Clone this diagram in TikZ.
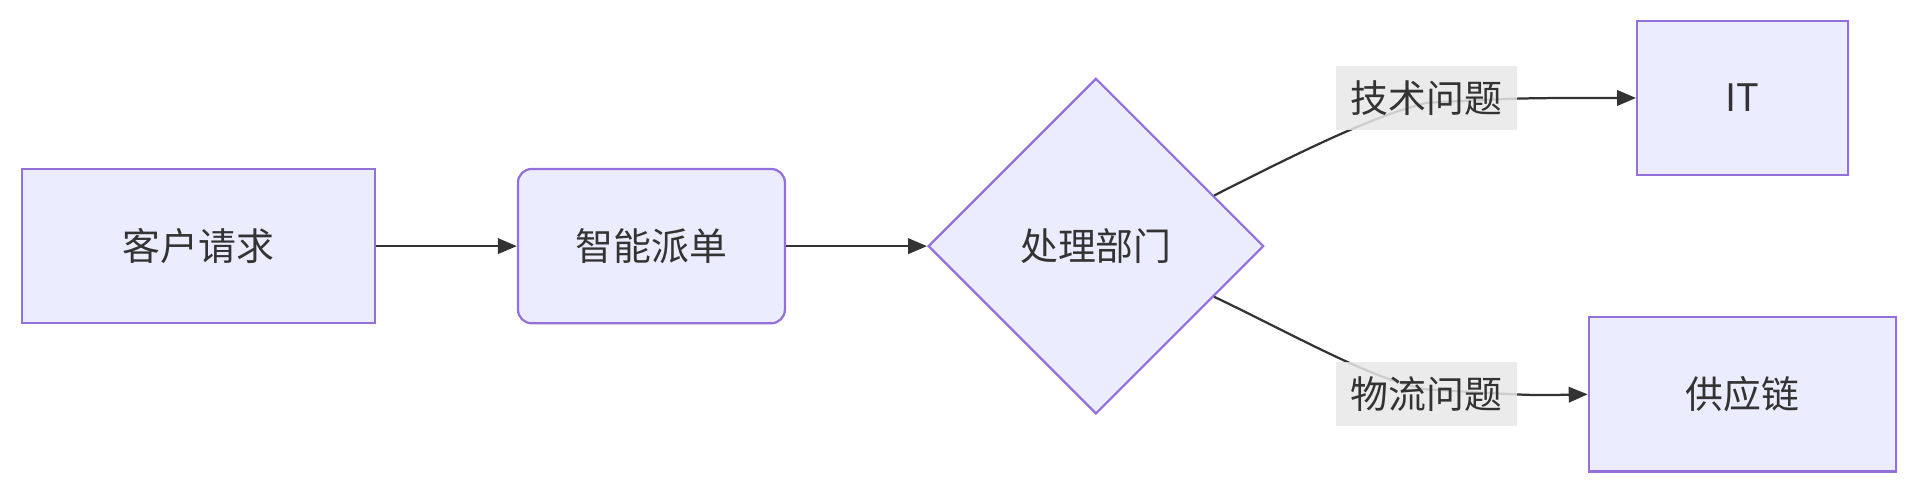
\documentclass[tikz,border=0pt]{standalone}
\usepackage{fontspec}
\setmainfont{Noto Sans CJK SC}
\usetikzlibrary{shapes.geometric,arrows.meta,calc}
\definecolor{nfill}{HTML}{ECECFF}
\definecolor{nstroke}{HTML}{9370DB}
\definecolor{txt}{HTML}{333333}
\definecolor{lbg}{HTML}{E8E8E8}
\begin{document}
\begin{tikzpicture}[x=0.025cm,y=-0.025cm,
  box/.style={draw=nstroke,fill=nfill,line width=1.3pt,text=txt,font=\fontsize{22}{26}\selectfont,inner sep=0,minimum height=3.15cm},
  lbl/.style={fill=lbg,fill opacity=0.85,text opacity=1,text=txt,font=\fontsize{22}{26}\selectfont,inner sep=1pt,minimum height=1.3cm,minimum width=3.7cm},
  conn/.style={draw=txt,line width=1.3pt,-{Triangle[length=11pt,width=9pt]}}]
\useasboundingbox (0,0) rectangle (1568,404);
\node[box,minimum width=7.2cm] (a) at (162,201) {客户请求};
\node[box,minimum width=5.45cm,rounded corners=8pt] (b) at (532,201) {智能派单};
\node[box,diamond,minimum width=6.85cm,minimum height=6.85cm] (d) at (895,201) {处理部门};
\node[box,minimum width=4.3cm] (it) at (1423,80) {IT};
\node[box,minimum width=6.275cm] (sc) at (1423,322) {供应链};
\coordinate (s1) at ($(d.east)!0.3!(d.north)$);
\coordinate (s2) at ($(d.east)!0.3!(d.south)$);
\coordinate (l1) at (1165,84);
\coordinate (l2) at (1165,318);
\draw[conn] (a) -- (b);
\draw[conn] (b.east) .. controls (700,201) .. (d.west);
\draw[conn] (s1) .. controls (1060,125) and (1120,95) .. (l1) .. controls (1240,80) .. (it.west);
\draw[conn] (s2) .. controls (1060,275) and (1120,310) .. (l2) .. controls (1250,323) .. (sc.west);
\node[lbl] (t1) at (1165,80) {技术问题};
\node[lbl] (t2) at (1165,322) {物流问题};
\end{tikzpicture}
\end{document}
